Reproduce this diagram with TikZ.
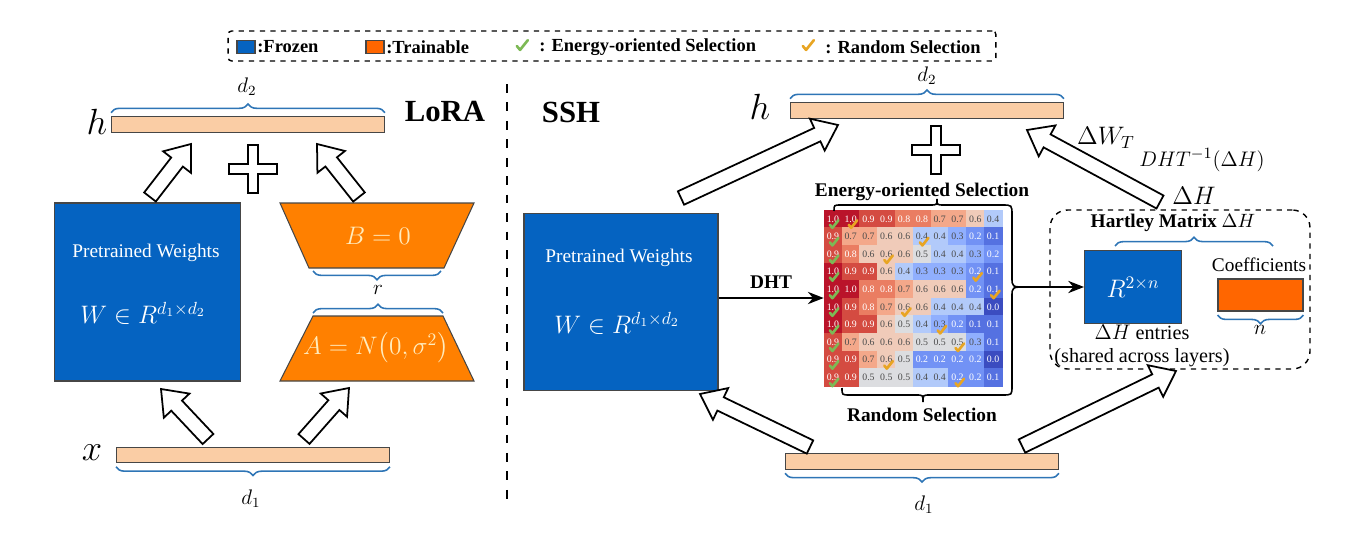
\documentclass[tikz,border=0pt]{standalone}
\usepackage[no-math]{fontspec}
\setmainfont{Liberation Serif}
\usepackage{amsmath}
\usepackage{tikz}
\usetikzlibrary{calc,arrows.meta,decorations.pathreplacing}

\definecolor{frozenblue}{RGB}{5,99,193}
\definecolor{trainorange}{RGB}{255,128,0}
\definecolor{coeforange}{RGB}{255,102,0}
\definecolor{peach}{RGB}{250,205,165}
\definecolor{bracebl}{RGB}{46,117,182}
\definecolor{edgegray}{RGB}{70,70,70}
\definecolor{cream}{RGB}{255,236,190}
\definecolor{checkgreen}{RGB}{125,185,85}
\definecolor{checkorange}{RGB}{232,165,35}
% coolwarm steps 0.0 ... 1.0
\definecolor{hm0}{RGB}{59,76,192}
\definecolor{hm1}{RGB}{85,113,225}
\definecolor{hm2}{RGB}{114,146,245}
\definecolor{hm3}{RGB}{144,175,254}
\definecolor{hm4}{RGB}{178,202,250}
\definecolor{hm5}{RGB}{220,221,224}
\definecolor{hm6}{RGB}{240,203,185}
\definecolor{hm7}{RGB}{244,168,138}
\definecolor{hm8}{RGB}{234,125,98}
\definecolor{hm9}{RGB}{212,75,65}
\definecolor{hm10}{RGB}{186,20,42}

\tikzset{
  vecbar/.style={draw=edgegray, fill=peach, line width=0.6pt, inner sep=0pt,
    minimum width=5.46cm, minimum height=0.31cm},
  frozenbox/.style={draw=edgegray, fill=frozenblue, line width=0.6pt, inner sep=0pt, text=white},
  trainbox/.style={draw=edgegray, fill=trainorange, line width=0.6pt},
  bluebrace/.style={draw=bracebl, line width=0.9pt, decorate, decoration={brace, amplitude=5pt}},
  selbrace/.style={draw=black, line width=0.9pt},
  blockarrow/.style={draw=black, fill=white, line width=1pt, line join=miter},
  legtext/.style={font=\bfseries\fontsize{10.5}{12}\selectfont, inner sep=0pt},
  boldlab/.style={font=\bfseries\fontsize{11}{13}\selectfont, inner sep=0pt},
  titlelab/.style={font=\bfseries\fontsize{17.5}{20}\selectfont, inner sep=0pt},
  bigmath/.style={font=\fontsize{20}{24}\selectfont, inner sep=0pt},
  midmath/.style={font=\fontsize{14}{16}\selectfont, inner sep=0pt},
  dimlab/.style={font=\fontsize{12}{14}\selectfont, inner sep=0pt},
  pwtext/.style={font=\fontsize{11}{13}\selectfont, text=white, inner sep=0pt},
  hmcell/.style={inner sep=0pt, minimum width=0.356cm, minimum height=0.352cm,
    font=\fontsize{5.6}{6}\selectfont},
  pics/tick/.style={code={\draw[line width=1.5pt, line cap=round, line join=round, #1]
    (-4,0) -- (-1.5,3) -- (4.5,-4.5);}}
}

% hollow block arrow from #1 (tail) to #2 (tip)
\newcommand{\blockarrow}[2]{%
  \coordinate (ba-b) at ($(#2)!13pt!(#1)$);
  \draw[blockarrow] ($(#1)!4.2pt!90:(#2)$) -- ($(ba-b)!4.2pt!90:(#2)$)
    -- ($(ba-b)!10pt!90:(#2)$) -- (#2) -- ($(ba-b)!10pt!-90:(#2)$)
    -- ($(ba-b)!4.2pt!-90:(#2)$) -- ($(#1)!4.2pt!-90:(#2)$) -- cycle;}
% hollow plus sign centred on #1
\newcommand{\plussign}[1]{%
  \draw[blockarrow] ($(#1)+(-24,-5)$) -- ++(19,0) -- ++(0,-19) -- ++(10,0) -- ++(0,19)
    -- ++(19,0) -- ++(0,10) -- ++(-19,0) -- ++(0,19) -- ++(-10,0) -- ++(0,-19)
    -- ++(-19,0) -- cycle;}

\begin{document}
\begin{tikzpicture}[x=0.02cm, y=-0.02cm]
\useasboundingbox (0,0) rectangle (1360,541);

% legend
\node [draw, dashed, line width=0.8pt, rounded corners=2pt, minimum width=15.36cm, minimum height=0.6cm] (leg) at (612,46) {};
\node [frozenbox, minimum width=0.36cm, minimum height=0.26cm] (legF) at (246,47) {};
\node [legtext, anchor=west] (legFt) at (257,47) {:Frozen};
\node [frozenbox, fill=coeforange, minimum width=0.36cm, minimum height=0.26cm] (legT) at (375,47) {};
\node [legtext, anchor=west] (legTt) at (386,47) {:Trainable};
\pic [scale=1.3] at (522,46) {tick=checkgreen};
\node [legtext, anchor=west] (legEt) at (539,47) {: Energy-oriented Selection};
\pic [scale=1.3] at (808,46) {tick=checkorange};
\node [legtext, anchor=west] (legRt) at (825,47) {: Random Selection};

% LoRA
\node [vecbar] (hL) at (248,124.5) {};
\node [bigmath] (hLlab) at (97,122) {$h$};
\draw [bluebrace] ([yshift=2pt]hL.north west) -- ([yshift=2pt]hL.north east);
\node [dimlab] (d2L) at (247,87) {$d_2$};
\node [titlelab] (lora) at (445,112) {LoRA};

\node [frozenbox, minimum width=3.72cm, minimum height=3.56cm] (pwL) at (147.5,292) {};
\node [pwtext] (pwLt) at (146,253) {Pretrained Weights};
\node [pwtext, midmath] (pwLm) at (143,313) {$W \in R^{d_1\times d_2}$};

\draw [trainbox] (280,203) -- (474,203) -- (444,268) -- (309,268) -- cycle;
\node [midmath, text=cream] (Bl) at (378,236) {$B=0$};
\draw [bluebrace] (441,271) -- (313,271);
\node [dimlab] (rl) at (378,290) {$r$};
\draw [bluebrace] (313,313) -- (443,313);
\draw [trainbox] (313,316) -- (443,316) -- (474,381) -- (280,381) -- cycle;
\node [midmath, text=cream] (Al) at (376,348) {$A=N\big(0,\sigma^2\big)$};

\node [vecbar] (xL) at (253,455) {};
\node [bigmath] (xLlab) at (92,453) {$x$};
\draw [bluebrace] ([yshift=-2pt]xL.south east) -- ([yshift=-2pt]xL.south west);
\node [dimlab] (d1L) at (251,499) {$d_1$};

\coordinate (a1t) at (150,197); \coordinate (a1h) at (191,144);
\coordinate (a2t) at (359,197); \coordinate (a2h) at (317,144);
\coordinate (a3t) at (208,439); \coordinate (a3h) at (161,389);
\coordinate (a4t) at (304,439); \coordinate (a4h) at (349,388);
\blockarrow{a1t}{a1h}
\blockarrow{a2t}{a2h}
\blockarrow{a3t}{a3h}
\blockarrow{a4t}{a4h}
\coordinate (plusL) at (253,169);
\plussign{plusL}

% separator
\coordinate (sepT) at (507,84); \coordinate (sepB) at (507,500);
\draw [line width=1.6pt, dash pattern=on 5pt off 5.5pt] (sepT) -- (sepB);

% SSH
\node [titlelab] (ssh) at (571,112) {SSH};
\node [vecbar] (hS) at (927,110.5) {};
\node [bigmath] (hSlab) at (760,107) {$h$};
\draw [bluebrace] ([yshift=2pt]hS.north west) -- ([yshift=2pt]hS.north east);
\node [dimlab] (d2S) at (927,76) {$d_2$};
\coordinate (plusS) at (936,150);
\plussign{plusS}

\node [frozenbox, minimum width=3.88cm, minimum height=3.54cm] (pwS) at (621,302) {};
\node [pwtext] (pwSt) at (619,258) {Pretrained Weights};
\node [pwtext, midmath] (pwSm) at (617,323) {$W \in R^{d_1\times d_2}$};

% heatmap
\node [inner sep=0pt, minimum width=3.56cm, minimum height=3.52cm] (hmap) at (913,298) {};
\foreach \vals [count=\r] in {{10,10,9,9,8,8,7,7,6,4},{9,7,7,6,6,4,4,3,2,1},{9,8,6,6,6,5,4,4,3,2},
  {10,9,9,6,4,3,3,3,2,1},{10,10,8,8,7,6,6,6,2,1},{10,9,8,7,6,6,4,4,4,0},{10,9,9,6,5,4,3,2,1,1},
  {9,7,6,6,6,5,5,5,3,1},{9,9,7,6,5,2,2,2,2,0},{9,9,5,5,5,4,4,2,2,1}}{
  \foreach \v [count=\c] in \vals {
    \pgfmathsetmacro{\cx}{824+(\c-0.5)*17.8}
    \pgfmathsetmacro{\cy}{210+(\r-0.5)*17.6}
    \ifnum\v>7 \def\tc{white}\else\ifnum\v<3 \def\tc{white}\else\def\tc{black!70}\fi\fi
    \node [hmcell, fill=hm\v, draw=hm\v, line width=0.2pt, text=\tc] (c\r-\c) at (\cx,\cy)
      {\ifnum\v=10 1.0\else 0.\v\fi};
  }
}
\foreach \r in {1,...,10}
  \pic at ($(c\r-1)+(1,6)$) {tick=checkgreen};
\foreach \r/\c in {1/2,2/6,3/4,4/9,5/10,6/5,7/7,8/8,9/4,10/8}
  \pic at ($(c\r-\c)+(2,6)$) {tick=checkorange};

\draw [-{Stealth[length=9pt,width=7pt]}, line width=0.9pt] (pwS.east |- hmap.west) -- node (dhtl) [boldlab, above=5pt] {DHT} (hmap.west);

\node [boldlab] (eosl) at (922,192) {Energy-oriented Selection};
\node [boldlab] (rsl) at (922,415) {Random Selection};
\coordinate (btip) at (1026,287);
\draw [selbrace] (834,211) .. controls (834,205) .. (841,205) -- (930,205) .. controls (937,205) .. (937,199)
  .. controls (937,205) .. (944,205) -- (1002,205) .. controls (1012,205) .. (1012,215)
  -- (1012,277) .. controls (1012,287) .. (btip);
\draw [selbrace] (btip) .. controls (1012,287) .. (1012,297) -- (1012,386)
  .. controls (1012,395) .. (1002,395) -- (930,395) .. controls (923,395) .. (923,402)
  .. controls (923,395) .. (916,395) -- (850,395) .. controls (842,395) .. (842,388);

% Hartley matrix
\node [draw, dashed, line width=0.8pt, rounded corners=10pt, minimum width=5.2cm, minimum height=3.18cm] (hart) at (1180,289.5) {};
\node [boldlab] (hartl) at (1173,223) {Hartley Matrix $\Delta H$};
\node [frozenbox, midmath, minimum width=1.94cm, minimum height=1.46cm] (Rbox) at (1133,287) {$R^{2\times n}$};
\draw [-{Stealth[length=9pt,width=7pt]}, line width=0.9pt] (btip) -- (Rbox.west);
\draw [bluebrace] (1115,246) -- (1273,246);
\node [font=\fontsize{11}{13}\selectfont, inner sep=0pt] (coefl) at (1259,265) {Coefficients};
\node [draw=edgegray, fill=coeforange, line width=0.6pt, inner sep=0pt, minimum width=1.7cm, minimum height=0.64cm] (coef) at (1260.5,295) {};
\draw [bluebrace] ([yshift=-2pt]coef.south east) -- ([yshift=-2pt]coef.south west);
\node [dimlab] (nl) at (1260,330) {$n$};
\node [font=\fontsize{11.5}{13}\selectfont, align=center, inner sep=0pt] (entl) at (1142,346) {$\Delta H$ entries\\(shared across layers)};

\node [vecbar] (xS) at (922,461.5) {};
\draw [bluebrace] ([yshift=-2pt]xS.south east) -- ([yshift=-2pt]xS.south west);
\node [dimlab] (d1S) at (924,505) {$d_1$};

\coordinate (s1t) at (681,198); \coordinate (s1h) at (838,125);
\coordinate (s2t) at (810,447); \coordinate (s2h) at (700,394);
\coordinate (s3t) at (1022,446); \coordinate (s3h) at (1176,371);
\coordinate (s4t) at (1160,202); \coordinate (s4h) at (1027,130);
\blockarrow{s1t}{s1h}
\blockarrow{s2t}{s2h}
\blockarrow{s3t}{s3h}
\blockarrow{s4t}{s4h}
\node [midmath] (dwl) at (1106,138) {$\Delta W_T$};
\node [font=\fontsize{13}{15}\selectfont, inner sep=0pt] (dhtil) at (1202,160) {$DHT^{-1}(\Delta H)$};
\node [midmath] (dhl) at (1194,196) {$\Delta H$};

\end{tikzpicture}
\end{document}
